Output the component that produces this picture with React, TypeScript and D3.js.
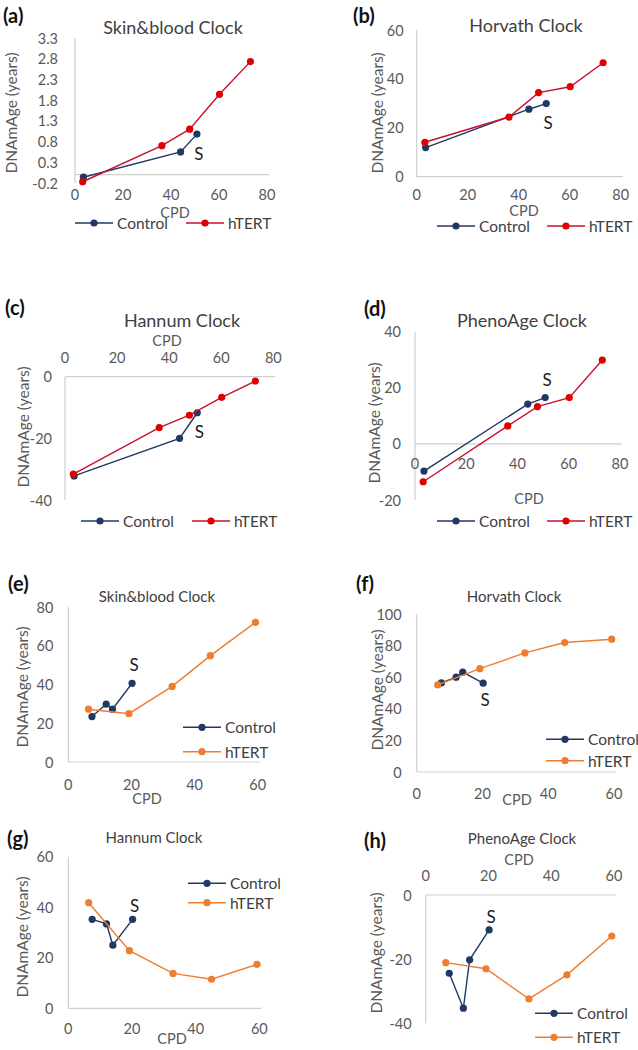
import * as d3 from 'd3';
import React from 'react';

// CPD (x) values
const cpdControlTop = [3.5, 44, 50.8];
const cpdHtertTop = [3.2, 36.2, 47.8, 60.2, 73.1];
const cpdControlBottom = [7.5, 12, 14, 20.2];
const cpdHtertBottom = [6.4, 19.2, 32.9, 45, 59.3];

// DNAmAge values (years)
const skinBloodControlA = [-0.06, 0.55, 0.98];
const skinBloodHtertA = [-0.17, 0.7, 1.1, 1.94, 2.73];
const horvathControlB = [11.9, 27.6, 29.9];
const horvathHtertB = [14.1, 24.4, 34.4, 36.8, 46.6];
const hannumControlC = [-32.2, -20, -11.7];
const hannumHtertC = [-31.6, -16.5, -12.5, -6.7, -1.4];
const phenoControlD = [-9.7, 14.2, 16.5];
const phenoHtertD = [-13.5, 6.4, 13.3, 16.5, 29.9];
const skinBloodControlE = [23.5, 29.9, 27.3, 40.7];
const skinBloodHtertE = [27.3, 25, 39.1, 55, 72.2];
const horvathControlF = [56.5, 60.1, 63.3, 56.3];
const horvathHtertF = [55.2, 65.5, 75.5, 82.1, 84.2];
const hannumControlG = [35.2, 33.4, 25, 35.2];
const hannumHtertG = [41.8, 22.8, 13.8, 11.5, 17.4];
const phenoControlH = [-24.4, -35.3, -20.2, -10.9];
const phenoHtertH = [-21.1, -23, -32.4, -24.9, -12.8];

// tick labels
const xTicksTop = [0, 20, 40, 60, 80];
const xTicksBottom = [0, 20, 40, 60];
const yTicksA = [-0.2, 0.3, 0.8, 1.3, 1.8, 2.3, 2.8, 3.3];
const yTicksB = [0, 20, 40, 60];
const yTicksC = [-40, -20, 0];
const yTicksD = [-20, 0, 20, 40];
const yTicksE = [0, 20, 40, 60, 80];
const yTicksF = [0, 20, 40, 60, 80, 100];
const yTicksG = [0, 20, 40, 60];
const yTicksH = [-40, -20, 0];

const seriesNames = ['Control', 'hTERT'];

const FONT = "Lato, 'Open Sans', sans-serif";
const NAVY = '#1f3864';
const RED = '#c8102e';
const RED_PT = '#e00000';
const ORANGE = '#ed7d31';
const AXIS = '#cfcfcf';
const TICK = '#595959';

const intFmt = (v) => (v < 0 ? '-' + Math.abs(v) : String(v));
const oneDec = (v) => (v < 0 ? '-' + Math.abs(v).toFixed(1) : v.toFixed(1));

const zip = (xs, ys) => xs.map((x, i) => [x, ys[i]]);

const panels = [
  {
    label: '(a)', labelPos: [3, 23], title: 'Skin&blood Clock', titlePos: [173, 27], titleSize: 18,
    xRange: [75, 267], xDomain: [0, 80], xTicks: xTicksTop, xLabelDy: 20,
    yRange: [183, 38], yDomain: [-0.2, 3.3], yTicks: yTicksA, yFmt: oneDec, yLabelDx: -17,
    cpdPos: [175, 212], yTitlePos: [11, 113],
    control: zip(cpdControlTop, skinBloodControlA), htert: zip(cpdHtertTop, skinBloodHtertA),
    hColor: RED, hPoint: RED_PT, sDy: 19, legend: [[75, 223], [186, 223]],
  },
  {
    label: '(b)', labelPos: [353, 23], title: 'Horvath Clock', titlePos: [526, 25], titleSize: 18,
    xRange: [416.7, 620.7], xDomain: [0, 80], xTicks: xTicksTop, xLabelDy: 18,
    yRange: [176.7, 30], yDomain: [0, 60], yTicks: yTicksB, yFmt: intFmt, yLabelDx: -13,
    cpdPos: [524, 210], yTitlePos: [377, 113],
    control: zip(cpdControlTop, horvathControlB), htert: zip(cpdHtertTop, horvathHtertB),
    hColor: RED, hPoint: RED_PT, sDy: 19, legend: [[437, 226], [547, 226]],
  },
  {
    label: '(c)', labelPos: [5, 315], title: 'Hannum Clock', titlePos: [182, 320], titleSize: 18,
    xRange: [65, 273.3], xDomain: [0, 80], xTicks: xTicksTop, xLabelDy: -19,
    yRange: [500, 376.7], yDomain: [-40, 0], yTicks: yTicksC, yFmt: intFmt, yLabelDx: -13,
    cpdPos: [167, 340], yTitlePos: [23, 427],
    control: zip(cpdControlTop, hannumControlC), htert: zip(cpdHtertTop, hannumHtertC),
    hColor: RED, hPoint: RED_PT, sDy: 19, legend: [[81, 521], [192, 521]],
  },
  {
    label: '(d)', labelPos: [364, 316], title: 'PhenoAge Clock', titlePos: [522, 320], titleSize: 18,
    xRange: [415, 620], xDomain: [0, 80], xTicks: xTicksTop, xLabelDy: 20,
    yRange: [500, 331.7], yDomain: [-20, 40], yTicks: yTicksD, yFmt: intFmt, yLabelDx: -14,
    cpdPos: [529, 498], yTitlePos: [374, 423],
    control: zip(cpdControlTop, phenoControlD), htert: zip(cpdHtertTop, phenoHtertD),
    hColor: RED, hPoint: RED_PT, sDy: -18, legend: [[437, 521], [547, 521]],
  },
  {
    label: '(e)', labelPos: [8, 591], title: 'Skin&blood Clock', titlePos: [157, 596], titleSize: 15,
    xRange: [68.3, 257.7], xDomain: [0, 60], xTicks: xTicksBottom, xLabelDy: 22,
    yRange: [762, 607.3], yDomain: [0, 80], yTicks: yTicksE, yFmt: intFmt, yLabelDx: -15,
    cpdPos: [147, 798], yTitlePos: [22, 687],
    control: zip(cpdControlBottom, skinBloodControlE), htert: zip(cpdHtertBottom, skinBloodHtertE),
    hColor: ORANGE, hPoint: ORANGE, sDy: -19, legend: [[183, 727.3], [183, 751.7]],
  },
  {
    label: '(f)', labelPos: [356, 591], title: 'Horvath Clock', titlePos: [514, 596], titleSize: 15,
    xRange: [416.7, 614], xDomain: [0, 60], xTicks: xTicksBottom, xLabelDy: 21,
    yRange: [772, 614.3], yDomain: [0, 100], yTicks: yTicksF, yFmt: intFmt, yLabelDx: -15,
    cpdPos: [517, 799], yTitlePos: [377, 690],
    control: zip(cpdControlBottom, horvathControlF), htert: zip(cpdHtertBottom, horvathHtertF),
    hColor: ORANGE, hPoint: ORANGE, sDy: 16, legend: [[546, 739.3], [546, 760.7]],
  },
  {
    label: '(g)', labelPos: [7, 846], title: 'Hannum Clock', titlePos: [154, 837], titleSize: 15,
    xRange: [68.3, 259.3], xDomain: [0, 60], xTicks: xTicksBottom, xLabelDy: 20,
    yRange: [1008.3, 856.7], yDomain: [0, 60], yTicks: yTicksG, yFmt: intFmt, yLabelDx: -15,
    cpdPos: [172, 1038], yTitlePos: [22, 937],
    control: zip(cpdControlBottom, hannumControlG), htert: zip(cpdHtertBottom, hannumHtertG),
    hColor: ORANGE, hPoint: ORANGE, sDy: -14, legend: [[188, 883.3], [188, 902.7]],
  },
  {
    label: '(h)', labelPos: [364, 848], title: 'PhenoAge Clock', titlePos: [522, 838], titleSize: 15,
    xRange: [425.7, 614], xDomain: [0, 60], xTicks: xTicksBottom, xLabelDy: -20,
    yRange: [1023.3, 895], yDomain: [-40, 0], yTicks: yTicksH, yFmt: intFmt, yLabelDx: -14,
    cpdPos: [519, 859], yTitlePos: [376, 953],
    control: zip(cpdControlBottom, phenoControlH), htert: zip(cpdHtertBottom, phenoHtertH),
    hColor: ORANGE, hPoint: ORANGE, sDy: -13, legend: [[535, 1013.3], [535, 1037.3]],
  },
];

function Panel({ p }) {
  const x = d3.scaleLinear().domain(p.xDomain).range(p.xRange);
  const y = d3.scaleLinear().domain(p.yDomain).range(p.yRange);
  const line = d3.line().x((d) => x(d[0])).y((d) => y(d[1]));
  const axisY = y(0);
  const last = p.control[p.control.length - 1];
  const colors = [NAVY, p.hColor];
  const pts = [NAVY, p.hPoint];

  return (
    <g fontFamily={FONT}>
      {/* axes */}
      <line x1={p.xRange[0]} x2={p.xRange[0]} y1={p.yRange[0]} y2={p.yRange[1]} stroke={AXIS} strokeWidth={1.2} />
      <line x1={p.xRange[0]} x2={p.xRange[1] + 2} y1={axisY} y2={axisY} stroke={AXIS} strokeWidth={1.2} />
      {p.yTicks.map((t) => (
        <text key={'y' + t} x={p.xRange[0] + p.yLabelDx} y={y(t)} textAnchor="end" dominantBaseline="central" fontSize={14.5} fill={TICK}>
          {p.yFmt(t)}
        </text>
      ))}
      {p.xTicks.map((t) => (
        <text key={'x' + t} x={x(t)} y={axisY + p.xLabelDy} textAnchor="middle" dominantBaseline="central" fontSize={14.5} fill={TICK}>
          {t}
        </text>
      ))}
      <text x={p.cpdPos[0]} y={p.cpdPos[1]} textAnchor="middle" dominantBaseline="central" fontSize={14.5} fill={TICK}>CPD</text>
      <text transform={`translate(${p.yTitlePos[0]},${p.yTitlePos[1]}) rotate(-90)`} textAnchor="middle" dominantBaseline="central" fontSize={15.5} fill={TICK}>
        DNAmAge (years)
      </text>
      <text x={p.titlePos[0]} y={p.titlePos[1]} textAnchor="middle" dominantBaseline="central" fontSize={p.titleSize} fill="#404040">
        {p.title}
      </text>
      <text x={p.labelPos[0]} y={p.labelPos[1]} fontSize={20} fontWeight="bold" fill="#111">{p.label}</text>

      {/* series */}
      {[p.control, p.htert].map((s, i) => (
        <g key={i}>
          <path d={line(s)} fill="none" stroke={colors[i]} strokeWidth={1.4} />
          {s.map((d, j) => (
            <circle key={j} cx={x(d[0])} cy={y(d[1])} r={3.6} fill={pts[i]} />
          ))}
        </g>
      ))}
      <text x={x(last[0]) + 2} y={y(last[1]) + p.sDy} textAnchor="middle" dominantBaseline="central" fontSize={17} fill="#1a1a1a">S</text>

      {/* legend */}
      {p.legend.map((l, i) => (
        <g key={'l' + i}>
          <line x1={l[0]} x2={l[0] + 38} y1={l[1]} y2={l[1]} stroke={colors[i]} strokeWidth={1.4} />
          <circle cx={l[0] + 19} cy={l[1]} r={3.6} fill={pts[i]} />
          <text x={l[0] + 42} y={l[1]} dominantBaseline="central" fontSize={15.5} fill="#404040">{seriesNames[i]}</text>
        </g>
      ))}
    </g>
  );
}

export default function App() {
  return (
    <svg width={638} height={1050} style={{ position: 'absolute', left: 0, top: 0, background: '#fff' }}>
      <rect width={638} height={1050} fill="#fff" />
      {panels.map((p) => (
        <Panel key={p.label} p={p} />
      ))}
    </svg>
  );
}
